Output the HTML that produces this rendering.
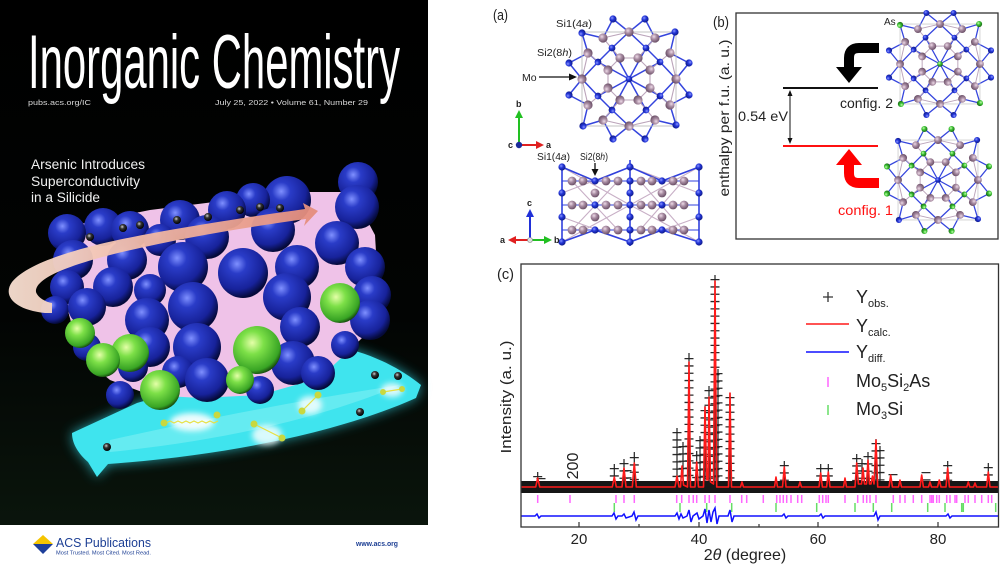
<!DOCTYPE html>
<html><head><meta charset="utf-8">
<style>
html,body{margin:0;padding:0;background:#fff;width:1000px;height:565px;overflow:hidden}
svg{display:block}
text{font-family:"Liberation Sans",Arial,sans-serif}
</style></head>
<body>
<svg width="1000" height="565" viewBox="0 0 1000 565" xmlns="http://www.w3.org/2000/svg">
<defs>
 <linearGradient id="bg" x1="0" y1="0" x2="0" y2="1"><stop offset="0" stop-color="#000"/><stop offset="0.6" stop-color="#020403"/><stop offset="1" stop-color="#0a150c"/></linearGradient>
 <radialGradient id="sb" cx="38%" cy="32%" r="68%"><stop offset="0" stop-color="#7f90ff"/><stop offset="0.28" stop-color="#2a3cc8"/><stop offset="0.75" stop-color="#17229a"/><stop offset="1" stop-color="#050a3a"/></radialGradient>
 <radialGradient id="sg" cx="40%" cy="35%" r="68%"><stop offset="0" stop-color="#e4ffa8"/><stop offset="0.35" stop-color="#7de048"/><stop offset="0.85" stop-color="#38a424"/><stop offset="1" stop-color="#14400c"/></radialGradient>
 <radialGradient id="se" cx="40%" cy="35%" r="65%"><stop offset="0" stop-color="#cfcfcf"/><stop offset="0.4" stop-color="#333"/><stop offset="1" stop-color="#000"/></radialGradient>
 <linearGradient id="pk" x1="0" y1="0" x2="1" y2="0"><stop offset="0" stop-color="#f8e0d2"/><stop offset="0.5" stop-color="#efb4a0"/><stop offset="1" stop-color="#e48c7c"/></linearGradient>
 <radialGradient id="ab" cx="38%" cy="35%" r="65%"><stop offset="0" stop-color="#8a96ff"/><stop offset="0.45" stop-color="#2436d8"/><stop offset="1" stop-color="#101c8c"/></radialGradient>
 <radialGradient id="ap" cx="38%" cy="35%" r="65%"><stop offset="0" stop-color="#eedbe8"/><stop offset="0.45" stop-color="#a98da3"/><stop offset="1" stop-color="#6c5168"/></radialGradient>
 <radialGradient id="ag" cx="38%" cy="35%" r="65%"><stop offset="0" stop-color="#c8ffb0"/><stop offset="0.45" stop-color="#3cc234"/><stop offset="1" stop-color="#1a6a16"/></radialGradient>
 <filter id="bl" x="-20%" y="-40%" width="140%" height="180%"><feGaussianBlur stdDeviation="6"/></filter>
 <filter id="bl2" x="-50%" y="-50%" width="200%" height="200%"><feGaussianBlur stdDeviation="3"/></filter>

 <g id="Lq" fill="none">
  <path stroke="#3545dd" stroke-width="1.5" d="M-16,-60 L0,-47 L16,-60 M-16,-60 L-26,-41 M16,-60 L26,-41 M46,-47 L26,-41 M46,-47 L41,-26 M17,-31 L0,-47 L-17,-31 M17,-31 L26,-41 M0,0 L17,-31 M0,0 L-17,-31 M17,-31 L31,-17"/>
  <path stroke="#bba4ba" stroke-width="1.1" d="M9,-21 L-9,-21 M9,-21 L21,-9 M9,-21 L26,-41 M-9,-21 L-26,-41 M0,-47 L-26,-41 M0,-47 L26,-41"/>
 </g>
 <g id="Pq"><circle cx="0" cy="-47" r="4.6"/><circle cx="26" cy="-41" r="4.6"/><circle cx="-26" cy="-41" r="4.6"/><circle cx="9" cy="-21" r="4.6"/><circle cx="-9" cy="-21" r="4.6"/></g>
 <g id="Oq"><circle cx="-16" cy="-60" r="3.6"/><circle cx="16" cy="-60" r="3.6"/></g>
 <g id="Cq"><circle cx="46" cy="-47" r="3.6"/></g>
 <g id="Mq"><circle cx="17" cy="-31" r="3.4"/><circle cx="-17" cy="-31" r="3.4"/></g>
 <g id="L"><use href="#Lq"/><use href="#Lq" transform="rotate(90)"/><use href="#Lq" transform="rotate(180)"/><use href="#Lq" transform="rotate(270)"/></g>
 <g id="P"><use href="#Pq"/><use href="#Pq" transform="rotate(90)"/><use href="#Pq" transform="rotate(180)"/><use href="#Pq" transform="rotate(270)"/></g>
 <g id="O"><use href="#Oq"/><use href="#Oq" transform="rotate(90)"/><use href="#Oq" transform="rotate(180)"/><use href="#Oq" transform="rotate(270)"/></g>
 <g id="C"><use href="#Cq"/><use href="#Cq" transform="rotate(90)"/><use href="#Cq" transform="rotate(180)"/><use href="#Cq" transform="rotate(270)"/></g>
 <g id="M"><use href="#Mq"/><use href="#Mq" transform="rotate(90)"/><use href="#Mq" transform="rotate(180)"/><use href="#Mq" transform="rotate(270)"/></g>
</defs>

<!-- ================= COVER ================= -->
<rect x="0" y="0" width="428" height="525" fill="url(#bg)"/>
<text x="28" y="88" font-size="76" fill="#fff" textLength="372" lengthAdjust="spacingAndGlyphs" style="font-family:'Liberation Sans Narrow','Liberation Sans',sans-serif">Inorganic Chemistry</text>
<text x="28" y="105" font-size="7.5" fill="#d8d8d8" textLength="63" lengthAdjust="spacingAndGlyphs">pubs.acs.org/IC</text>
<text x="215" y="105" font-size="7.5" fill="#d8d8d8" textLength="153" lengthAdjust="spacingAndGlyphs">July 25, 2022 • Volume 61,  Number 29</text>
<text font-size="13.5" fill="#f0f0f0">
 <tspan x="31" y="169" textLength="114" lengthAdjust="spacingAndGlyphs">Arsenic Introduces</tspan>
 <tspan x="31" y="186" textLength="109" lengthAdjust="spacingAndGlyphs">Superconductivity</tspan>
 <tspan x="31" y="202" textLength="69" lengthAdjust="spacingAndGlyphs">in a Silicide</tspan>
</text>

<!-- cyan arrow glow + body -->
<path d="M72,433 L137,403 C200,385 270,360 330,345 C370,352 400,368 421,385 L416,398 C340,432 230,455 108,464 L97,477 L88,462 C80,455 72,445 72,433 Z" fill="#30d8e8" opacity="0.7" filter="url(#bl)"/>
<path d="M72,433 L137,403 C200,385 270,360 330,345 C370,352 400,368 421,385 L416,398 C340,432 230,455 108,464 L97,477 L88,462 C80,455 72,445 72,433 Z" fill="#3fe4ee"/>
<path d="M110,440 C200,420 300,400 400,385 C330,415 230,440 110,452 Z" fill="#7ff0f4" opacity="0.6"/>

<!-- pink filler behind spheres -->
<polygon points="75,225 150,210 230,200 300,192 352,192 375,235 380,320 355,345 320,378 260,395 200,398 150,395 110,380 80,355 65,300" fill="#efc2e8"/>

<!-- blue spheres -->
<g fill="url(#sb)">
 <circle cx="358" cy="182" r="20"/><circle cx="287" cy="200" r="24"/><circle cx="253" cy="200" r="17"/><circle cx="227" cy="210" r="19"/>
 <circle cx="357" cy="207" r="22"/><circle cx="180" cy="220" r="20"/><circle cx="103" cy="227" r="19"/><circle cx="130" cy="230" r="19"/>
 <circle cx="160" cy="240" r="16"/>
 <circle cx="273" cy="230" r="22"/><circle cx="67" cy="233" r="19"/><circle cx="207" cy="237" r="22"/><circle cx="337" cy="243" r="22"/>
 <circle cx="73" cy="260" r="20"/><circle cx="127" cy="260" r="20"/><circle cx="365" cy="267" r="20"/><circle cx="297" cy="267" r="22"/>
 <circle cx="183" cy="267" r="25"/><circle cx="243" cy="273" r="25"/><circle cx="67" cy="287" r="17"/><circle cx="150" cy="290" r="16"/><circle cx="113" cy="287" r="20"/>
 <circle cx="372" cy="295" r="19"/><circle cx="287" cy="297" r="24"/><circle cx="55" cy="310" r="14"/><circle cx="87" cy="307" r="19"/><circle cx="193" cy="307" r="25"/>
 <circle cx="370" cy="320" r="20"/><circle cx="147" cy="320" r="22"/><circle cx="300" cy="327" r="20"/><circle cx="87" cy="347" r="14"/>
 <circle cx="345" cy="345" r="14"/>
 <circle cx="150" cy="347" r="20"/><circle cx="197" cy="347" r="24"/><circle cx="293" cy="363" r="22"/><circle cx="133" cy="367" r="15"/>
 <circle cx="178" cy="372" r="16"/><circle cx="260" cy="390" r="14"/>
 <circle cx="318" cy="373" r="17"/><circle cx="207" cy="380" r="22"/><circle cx="120" cy="395" r="14"/>
</g>
<!-- green spheres -->
<g fill="url(#sg)">
 <circle cx="340" cy="303" r="20"/><circle cx="80" cy="333" r="15"/><circle cx="130" cy="353" r="19"/><circle cx="257" cy="350" r="24"/>
 <circle cx="103" cy="360" r="17"/><circle cx="240" cy="380" r="14"/><circle cx="160" cy="390" r="20"/>
</g>

<!-- pink arrow band -->
<path d="M318,211 L303,203 L305,209 C240,218 150,232 100,244 C60,254 25,266 12,282 C2,296 15,310 45,313 L52,313 L52,303 C46,302 38,298 36,292 C35,280 60,268 110,255 C170,240 240,228 306,219 L304,226 Z" fill="url(#pk)" opacity="0.95"/>

<!-- electrons -->
<g fill="url(#se)">
 <circle cx="90" cy="237" r="4"/><circle cx="123" cy="228" r="4"/><circle cx="140" cy="225" r="4"/><circle cx="177" cy="220" r="4"/>
 <circle cx="208" cy="217" r="4"/><circle cx="240" cy="210" r="4"/><circle cx="260" cy="207" r="4"/><circle cx="280" cy="208" r="4"/>
 <circle cx="107" cy="447" r="4"/><circle cx="360" cy="412" r="4"/><circle cx="375" cy="375" r="4"/><circle cx="398" cy="376" r="4"/>
</g>
<!-- glows on cyan -->
<g fill="#ffffff" filter="url(#bl2)">
 <ellipse cx="192" cy="422" rx="22" ry="9" opacity="0.9"/><ellipse cx="267" cy="435" rx="15" ry="10" opacity="0.8"/>
 <ellipse cx="310" cy="405" rx="12" ry="9" opacity="0.8"/><ellipse cx="392" cy="390" rx="11" ry="7" opacity="0.8"/>
</g>
<g stroke="#e8e040" stroke-width="1.2" fill="none">
 <path d="M166,423 l4,-2 l4,2 l4,-2 l4,2 l4,-2 l4,2 l4,-2 l4,2 l4,-2 l4,2 l4,-2 l4,2 l4,-2"/>
 <path d="M254,424 L282,438"/><path d="M302,411 L318,395"/><path d="M383,392 L402,389"/>
</g>
<g fill="#c8d840"><circle cx="164" cy="423" r="3.5"/><circle cx="217" cy="415" r="3.5"/><circle cx="254" cy="424" r="3.5"/><circle cx="282" cy="438" r="3.5"/><circle cx="302" cy="411" r="3.5"/><circle cx="318" cy="395" r="3.5"/><circle cx="383" cy="392" r="3"/><circle cx="402" cy="389" r="3"/></g>

<!-- ACS footer -->
<polygon points="33,544 43,535 53,544" fill="#f5c400"/>
<polygon points="33,544 53,544 43,554" fill="#1d3f9a"/>
<text x="56" y="547" font-size="13" fill="#1d3f94" textLength="95" lengthAdjust="spacingAndGlyphs">ACS Publications</text>
<text x="56" y="554.5" font-size="5" fill="#1d3f94" textLength="95" lengthAdjust="spacingAndGlyphs">Most Trusted. Most Cited. Most Read.</text>
<text x="356" y="546" font-size="7.5" font-weight="bold" fill="#1d3f94" textLength="42" lengthAdjust="spacingAndGlyphs">www.acs.org</text>

<!-- ================= PANEL (a) ================= -->
<text x="493" y="20" font-size="15" fill="#222" textLength="15" lengthAdjust="spacingAndGlyphs">(a)</text>
<text x="556" y="27" font-size="10.5" fill="#222" textLength="36" lengthAdjust="spacingAndGlyphs">Si1(4<tspan font-style="italic">a</tspan>)</text>
<text x="537" y="56" font-size="10.5" fill="#222" textLength="35" lengthAdjust="spacingAndGlyphs">Si2(8<tspan font-style="italic">h</tspan>)</text>
<text x="522" y="81" font-size="10.5" fill="#222">Mo</text>
<line x1="539" y1="77" x2="571" y2="77" stroke="#111" stroke-width="1.3"/>
<polygon points="577,77 569,73.5 569,80.5" fill="#111"/>

<g transform="translate(629,79)">
 <use href="#L"/>
 <rect x="-47" y="-47" width="94" height="94" fill="none" stroke="#bdbdbd" stroke-width="0.9"/>
 <use href="#P" fill="url(#ap)"/>
 <use href="#O" fill="url(#ab)"/><use href="#C" fill="url(#ab)"/><use href="#M" fill="url(#ab)"/>
 <circle cx="0" cy="0" r="3.3" fill="url(#ab)"/>
</g>

<!-- axes icon top -->
<line x1="519" y1="145" x2="519" y2="116" stroke="#22c022" stroke-width="2"/>
<polygon points="519,110 515,118 523,118" fill="#22c022"/>
<line x1="519" y1="145" x2="538" y2="145" stroke="#e02020" stroke-width="2"/>
<polygon points="544,145 536,141 536,149" fill="#e02020"/>
<circle cx="519" cy="145" r="3.2" fill="#1a2a9a"/>
<text x="516" y="107" font-size="9" font-weight="bold" fill="#222">b</text>
<text x="546" y="148" font-size="9" font-weight="bold" fill="#222">a</text>
<text x="508" y="148" font-size="9" font-weight="bold" fill="#222">c</text>

<!-- bottom structure (a) -->
<text x="537" y="160" font-size="10.5" fill="#222" textLength="33" lengthAdjust="spacingAndGlyphs">Si1(4<tspan font-style="italic">a</tspan>)</text>
<text x="580" y="160" font-size="10.5" fill="#222" textLength="28" lengthAdjust="spacingAndGlyphs">Si2(8<tspan font-style="italic">h</tspan>)</text>
<line x1="595" y1="163" x2="595" y2="170" stroke="#111" stroke-width="1.3"/>
<polygon points="595,176 591.5,169 598.5,169" fill="#111"/>
<g fill="none">
 <path stroke="#c8afc6" stroke-width="1.1" d="M562,167 L630,205 L562,242 M699,167 L630,205 L699,242 M562,193 L630,167 M562,217 L630,242 M699,193 L630,167 M699,217 L630,242 M572,181 L618,230 M683,181 L640,230 M572,230 L618,181 M683,230 L640,181"/>
 <path stroke="#3040dd" stroke-width="1.6" d="M562,167 V242 M630,160 V246 M699,167 V242 M562,167 L595,181 M699,167 L662,181 M562,242 L595,230 M699,242 L662,230 M630,167 L595,181 M630,167 L662,181 M630,242 L595,230 M630,242 L662,230"/>
 <path stroke="#3040dd" stroke-width="0.9" d="M562,181 H699 M562,205 H699 M562,230 H699"/>
</g>
<g fill="url(#ap)">
 <circle cx="572" cy="181" r="4.4"/><circle cx="583" cy="181" r="4.4"/><circle cx="606" cy="181" r="4.4"/><circle cx="618" cy="181" r="4.4"/><circle cx="641" cy="181" r="4.4"/><circle cx="652" cy="181" r="4.4"/><circle cx="673" cy="181" r="4.4"/><circle cx="684" cy="181" r="4.4"/>
 <circle cx="572" cy="205" r="4.4"/><circle cx="583" cy="205" r="4.4"/><circle cx="606" cy="205" r="4.4"/><circle cx="618" cy="205" r="4.4"/><circle cx="641" cy="205" r="4.4"/><circle cx="652" cy="205" r="4.4"/><circle cx="673" cy="205" r="4.4"/><circle cx="684" cy="205" r="4.4"/>
 <circle cx="572" cy="230" r="4.4"/><circle cx="583" cy="230" r="4.4"/><circle cx="606" cy="230" r="4.4"/><circle cx="618" cy="230" r="4.4"/><circle cx="641" cy="230" r="4.4"/><circle cx="652" cy="230" r="4.4"/><circle cx="673" cy="230" r="4.4"/><circle cx="684" cy="230" r="4.4"/>
 <circle cx="595" cy="193" r="4.4"/><circle cx="662" cy="193" r="4.4"/><circle cx="595" cy="217" r="4.4"/><circle cx="662" cy="217" r="4.4"/>
</g>
<g fill="url(#ab)">
 <circle cx="562" cy="167" r="3.6"/><circle cx="562" cy="193" r="3.6"/><circle cx="562" cy="217" r="3.6"/><circle cx="562" cy="242" r="3.6"/>
 <circle cx="699" cy="167" r="3.6"/><circle cx="699" cy="193" r="3.6"/><circle cx="699" cy="217" r="3.6"/><circle cx="699" cy="242" r="3.6"/>
 <circle cx="630" cy="167" r="3.6"/><circle cx="630" cy="181" r="3.6"/><circle cx="630" cy="193" r="3.6"/><circle cx="630" cy="205" r="3.6"/><circle cx="630" cy="217" r="3.6"/><circle cx="630" cy="230" r="3.6"/><circle cx="630" cy="242" r="3.6"/>
 <circle cx="595" cy="181" r="3.6"/><circle cx="595" cy="205" r="3.6"/><circle cx="595" cy="230" r="3.6"/><circle cx="662" cy="181" r="3.6"/><circle cx="662" cy="205" r="3.6"/><circle cx="662" cy="230" r="3.6"/>
</g>
<!-- axes icon bottom -->
<line x1="530" y1="240" x2="530" y2="215" stroke="#2030d8" stroke-width="2"/>
<polygon points="530,209 526,217 534,217" fill="#2030d8"/>
<line x1="530" y1="240" x2="514" y2="240" stroke="#e02020" stroke-width="2"/>
<polygon points="508,240 516,236 516,244" fill="#e02020"/>
<line x1="530" y1="240" x2="546" y2="240" stroke="#22c022" stroke-width="2"/>
<polygon points="552,240 544,236 544,244" fill="#22c022"/>
<circle cx="530" cy="240" r="2.5" fill="#ddd" stroke="#888" stroke-width="0.6"/>
<text x="527" y="206" font-size="9" font-weight="bold" fill="#222">c</text>
<text x="500" y="243" font-size="9" font-weight="bold" fill="#222">a</text>
<text x="554" y="243" font-size="9" font-weight="bold" fill="#222">b</text>

<!-- ================= PANEL (b) ================= -->
<text x="713" y="27" font-size="15" fill="#222" textLength="16" lengthAdjust="spacingAndGlyphs">(b)</text>
<rect x="736" y="13" width="262" height="226" fill="none" stroke="#333" stroke-width="1.3"/>
<text transform="translate(729,118) rotate(-90)" text-anchor="middle" font-size="14" fill="#222" textLength="157" lengthAdjust="spacingAndGlyphs">enthalpy per f.u. (a. u.)</text>
<line x1="783" y1="88" x2="878" y2="88" stroke="#111" stroke-width="2"/>
<line x1="783" y1="146" x2="878" y2="146" stroke="#ff1010" stroke-width="2"/>
<line x1="790" y1="95" x2="790" y2="139" stroke="#111" stroke-width="1"/>
<polygon points="790,90 787.5,96 792.5,96" fill="#111"/>
<polygon points="790,144 787.5,138 792.5,138" fill="#111"/>
<text x="738" y="121" font-size="14" fill="#222" textLength="50" lengthAdjust="spacingAndGlyphs">0.54 eV</text>
<text x="840" y="108" font-size="14" fill="#222" textLength="53" lengthAdjust="spacingAndGlyphs">config. 2</text>
<text x="838" y="215" font-size="14" fill="#ff1010" textLength="55" lengthAdjust="spacingAndGlyphs">config. 1</text>
<path d="M879,48 L859,48 Q849,48 849,58 L849,69" fill="none" stroke="#000" stroke-width="10"/>
<polygon points="836,67 862,67 849,83" fill="#000"/>
<path d="M879,183 L859,183 Q849,183 849,173 L849,163" fill="none" stroke="#ff0000" stroke-width="10"/>
<polygon points="836,165 862,165 849,149" fill="#ff0000"/>
<text x="884" y="25" font-size="10" fill="#222">As</text>

<g transform="translate(940,64) scale(0.85)">
 <use href="#L"/>
 <rect x="-47" y="-47" width="94" height="94" fill="none" stroke="#c8c8c8" stroke-width="0.9"/>
 <use href="#P" fill="url(#ap)"/>
 <use href="#O" fill="url(#ab)"/><use href="#C" fill="url(#ag)"/><use href="#M" fill="url(#ab)"/>
 <circle cx="0" cy="0" r="3.3" fill="url(#ag)"/>
</g>
<g transform="translate(938,180) scale(0.85)">
 <use href="#L"/>
 <rect x="-47" y="-47" width="94" height="94" fill="none" stroke="#c8c8c8" stroke-width="0.9"/>
 <use href="#P" fill="url(#ap)"/>
 <use href="#O" fill="url(#ag)"/><use href="#C" fill="url(#ab)"/><use href="#M" fill="url(#ag)"/>
 <circle cx="0" cy="0" r="3.3" fill="url(#ab)"/>
</g>

<!-- ================= PANEL (c) ================= -->
<text x="497" y="279" font-size="15" fill="#222" textLength="17" lengthAdjust="spacingAndGlyphs">(c)</text>
<text transform="translate(511,397) rotate(-90)" text-anchor="middle" font-size="15" fill="#222" textLength="113" lengthAdjust="spacingAndGlyphs">Intensity (a. u.)</text>

<!-- obs band -->
<rect x="521" y="481" width="477" height="12" fill="#161616"/>
<!-- obs clusters: horizontal dashes -->
<g stroke="#2a2a2a" stroke-width="9" stroke-dasharray="1.3 6" fill="none">
 <path d="M537.7,476V481 M614.3,468V481 M624,463V481 M634.3,457V481 M677,432V481 M683,446V481 M689,358V481 M696.7,455V481 M700,440V481 M705,410V481 M709,390V481 M715,279V481 M718,373V481 M730,397V481 M784.3,465V481 M820.7,468V481 M828.3,468V481 M856.7,458V481 M862,463V481 M868,456V481 M876,443V481 M880,450V481 M947.7,465V481 M988.3,467V481 M627,470V481 M541,478V481 M926,472V481 M893,474V481"/>
</g>
<g stroke="#222" stroke-width="1.2" fill="none">
 <path d="M537.7,472V481 M614.3,464V481 M624,459V481 M634.3,452V481 M677,428V481 M683,442V481 M689,353V481 M696.7,451V481 M700,436V481 M705,406V481 M709,386V481 M715,275V481 M718,369V481 M730,393V481 M784.3,461V481 M820.7,464V481 M828.3,464V481 M856.7,454V481 M862,459V481 M868,452V481 M876,439V481 M880,446V481 M947.7,461V481 M988.3,463V481"/>
</g>
<!-- calc -->
<path fill="none" stroke="#ff1a1a" stroke-width="1.6" stroke-linejoin="round" d="M521,487 L535.7,487 L537.7,478 L539.7,487 L612.3,487 L614.3,477 L616.3,487 L622,487 L624,468 L626,487 L632.3,487 L634.3,463 L636.3,487 L675,487 L677,476 L679,487 L680.5,487 L682,466 L683.5,485 L687.5,487 L689,362 L690.5,487 L695,487 L696.7,462 L698.5,487 L703.5,487 L705,407 L706.7,480 L708,480 L709,397 L710.5,482 L713.5,484 L715,281 L716.7,487 L728.5,487 L730,393 L731.5,487 L740.5,487 L742,482 L743.5,487 L774.5,487 L776,477 L777.5,487 L782.5,487 L784.3,467 L786,487 L798.5,487 L800,482 L801.5,487 L819,487 L820.7,473 L822.4,487 L826.6,487 L828.3,472 L830,487 L843.5,487 L845,478 L846.5,487 L855,487 L856.7,463 L858.4,484 L861.5,484 L863,468 L864.5,484 L866.5,484 L868,460 L869.5,484 L871,484 L872.5,476 L874,484 L876,440 L877.7,487 L889,487 L890.7,475 L892.4,487 L898.5,487 L900,480 L901.5,487 L920,487 L921.7,475 L923.4,487 L928.5,487 L930,482 L931.5,487 L937.5,487 L939.3,480 L941,487 L946,487 L947.7,468 L949.4,487 L966.8,487 L968.3,482 L969.8,487 L973.5,487 L975,483 L976.5,487 L986.6,487 L988.3,472 L990,487 L998,487"/>
<!-- reflection ticks -->
<path fill="none" stroke="#ff66ff" stroke-width="1.5" d="M537.7,495v8M570,495v8M616,495v8M624,495v8M634.3,495v8M676.7,495v8M681.7,495v8M689,495v8M693.3,495v8M696.7,495v8M705,495v8M709.3,495v8M715,495v8M730,495v8M741.7,495v8M746.7,495v8M763.3,495v8M776.7,495v8M780,495v8M783.3,495v8M786.7,495v8M791,495v8M797.7,495v8M801.7,495v8M819.3,495v8M822.7,495v8M826,495v8M828.3,495v8M845,495v8M857.7,495v8M863.3,495v8M866.7,495v8M870,495v8M876,495v8M893.3,495v8M900,495v8M905,495v8M913.3,495v8M921.7,495v8M930,495v8M931.7,495v8M933.3,495v8M936.7,495v8M939.3,495v8M946.7,495v8M950,495v8M955,495v8M956.7,495v8M965,495v8M968.3,495v8M975,495v8M981.7,495v8M988.3,495v8M991.7,495v8"/>
<path fill="none" stroke="#66dd66" stroke-width="1.5" d="M614.3,503v9M680,503v9M706.7,503v9M731.7,503v9M776,503v9M816.7,503v9M855,503v9M873.3,503v9M891.7,503v9M927.7,503v9M945,503v9M961.7,503v9M963.3,503v9M995.7,503v9"/>
<!-- diff -->
<path fill="none" stroke="#1010ff" stroke-width="1.5" d="M521,516 L535,516 L537,514 L539,518 L541,516 L612,516 L614,513 L616,519 L618,516 L622,516 L624,514 L626,518 L632,516 L634,512 L636,520 L638,516 L675,516 L677,513 L679,519 L681,514 L683,518 L687,516 L689,510 L691,522 L693,516 L697,513 L699,519 L703,516 L705,509 L707,523 L709,510 L711,522 L713,512 L715,508 L717,524 L719,516 L728,516 L730,510 L732,522 L734,516 L782,516 L784,514 L786,518 L788,516 L819,516 L821,514 L823,518 L825,516 L874,516 L876,512 L878,520 L880,516 L946,516 L948,514 L950,518 L952,516 L998,516"/>
<!-- frame -->
<rect x="521" y="264" width="477.5" height="263" fill="none" stroke="#333" stroke-width="1.3"/>
<path stroke="#333" stroke-width="1.2" d="M579,527v-5M699,527v-5M818,527v-5M938,527v-5M639,527v-3M759,527v-3M878,527v-3"/>
<g font-size="15" fill="#222" text-anchor="middle">
 <text x="579" y="544">20</text><text x="699" y="544">40</text><text x="818" y="544">60</text><text x="938" y="544">80</text>
</g>
<text x="745" y="560" font-size="16" fill="#222" text-anchor="middle">2<tspan font-style="italic">θ</tspan> (degree)</text>
<text transform="translate(578,466) rotate(-90)" text-anchor="middle" font-size="16" fill="#222">200</text>

<!-- legend -->
<path stroke="#333" stroke-width="1.3" d="M823,297h10M828,292v10"/>
<line x1="806" y1="324" x2="849" y2="324" stroke="#ff1a1a" stroke-width="1.6"/>
<line x1="806" y1="352" x2="849" y2="352" stroke="#1010ff" stroke-width="1.6"/>
<line x1="828" y1="377" x2="828" y2="387" stroke="#ff66ff" stroke-width="1.5"/>
<line x1="828" y1="405" x2="828" y2="415" stroke="#66dd66" stroke-width="1.5"/>
<g font-size="18" fill="#222">
 <text x="856" y="303">Y<tspan font-size="11" dy="4">obs.</tspan></text>
 <text x="856" y="332">Y<tspan font-size="11" dy="4">calc.</tspan></text>
 <text x="856" y="358">Y<tspan font-size="11" dy="4">diff.</tspan></text>
 <text x="856" y="387">Mo<tspan font-size="11" dy="4">5</tspan><tspan dy="-4">Si</tspan><tspan font-size="11" dy="4">2</tspan><tspan dy="-4">As</tspan></text>
 <text x="856" y="415">Mo<tspan font-size="11" dy="4">3</tspan><tspan dy="-4">Si</tspan></text>
</g>
</svg>
</body></html>
